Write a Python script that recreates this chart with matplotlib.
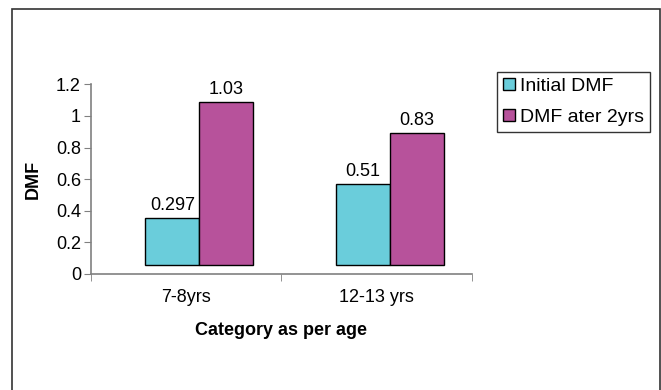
import numpy as np
import matplotlib.pyplot as plt
from matplotlib.patches import Rectangle

plt.rcParams['font.family'] = ['Liberation Sans', 'DejaVu Sans']

categories = ['7-8yrs', '12-13 yrs']
initial_dmf = [0.297, 0.51]
dmf_after = [1.03, 0.83]
series_names = ['Initial DMF', 'DMF ater 2yrs']
yticks = [0, 0.2, 0.4, 0.6, 0.8, 1, 1.2]

# the old chart draws bars a little up and right (flattened 3d depth)
depth_x = 0.07
depth_y = 0.06
width = 0.283
fs = 13

fig = plt.figure(figsize=(6.61, 3.90), dpi=100)
fig.patches.append(Rectangle((12 / 661, -0.1), 648 / 661, 1.1 - 9 / 390,
                             transform=fig.transFigure, fill=False,
                             edgecolor='#333333', linewidth=1.2))

ax = fig.add_axes([90.7 / 661, 1 - 274 / 390, 381 / 661, 189.7 / 390])
x = np.arange(len(categories))

b1 = ax.bar(x + depth_x - width / 2, initial_dmf, width, bottom=depth_y,
            color='#6ACDDB', edgecolor='black', linewidth=1, label=series_names[0])
b2 = ax.bar(x + depth_x + width / 2, dmf_after, width, bottom=depth_y,
            color='#B7529B', edgecolor='black', linewidth=1, label=series_names[1])

for bars, vals in [(b1, initial_dmf), (b2, dmf_after)]:
    for r, v in zip(bars, vals):
        ax.text(r.get_x() + r.get_width() / 2, v + depth_y + 0.025, f'{v:g}',
                ha='center', va='bottom', fontsize=fs)

ax.set_xlim(-0.5, len(categories) - 0.5)
ax.set_ylim(0, 1.2)
ax.set_yticks(yticks)
ax.set_yticklabels([f'{t:g}' for t in yticks])
ax.set_xticks(x)
ax.set_xticklabels(categories)
ax.set_xticks(np.arange(len(categories) + 1) - 0.5, minor=True)
ax.tick_params(axis='x', which='major', length=0, labelsize=fs, pad=11)
ax.tick_params(axis='x', which='minor', length=5, color='#808080', direction='out')
ax.tick_params(axis='y', length=5, color='#808080', labelsize=fs, pad=2)

for s in ['top', 'right']:
    ax.spines[s].set_visible(False)
for s in ['left', 'bottom']:
    ax.spines[s].set_color('#808080')
    ax.spines[s].set_linewidth(1.2)

ax.set_ylabel('DMF', fontsize=fs, fontweight='bold', labelpad=10)
ax.set_xlabel('Category as per age', fontsize=fs, fontweight='bold', labelpad=11)

leg = fig.legend(handles=[b1, b2], loc='upper left',
                 bbox_to_anchor=(497 / 661, 1 - 71.7 / 390), fontsize=14,
                 frameon=True, fancybox=False, edgecolor='black',
                 handlelength=0.6, handleheight=0.6, handletextpad=0.3,
                 borderpad=0.3, labelspacing=0.75, borderaxespad=0)
leg.get_frame().set_linewidth(1)

fig.savefig('out.png', dpi=100)
